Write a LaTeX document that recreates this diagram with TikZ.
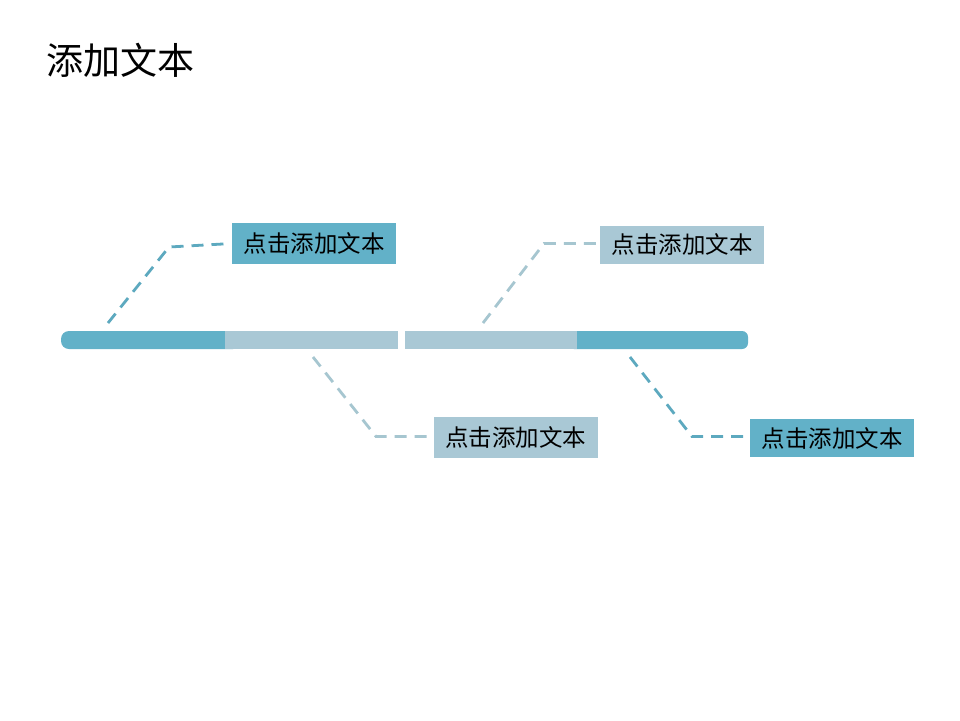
\documentclass[tikz,border=0pt]{standalone}
\usepackage{fontspec}
\setmainfont{Noto Sans CJK SC}
\definecolor{tealdark}{HTML}{62B1C8}
\definecolor{teallight}{HTML}{A9C8D5}
\definecolor{linedark}{HTML}{5DA9BF}
\definecolor{linelight}{HTML}{A6C6D0}
\begin{document}
\begin{tikzpicture}[x=1pt,y=-1pt,
  label box/.style={inner sep=0pt, minimum width=164pt, text=black,
    font=\fontsize{23.5}{28}\selectfont},
  bar/.style={inner sep=0pt, minimum height=18pt, draw=none},
  leader/.style={line width=2.8pt, dash pattern=on 12pt off 8pt},
]
\useasboundingbox (0,0) rectangle (960,720);
\fill[white] (0,0) rectangle (960,720);

% title
\node[anchor=west, inner sep=0pt, font=\fontsize{37}{44}\selectfont] (title) at (46,60) {添加文本};

% bar segments
\node[bar, fill=tealdark, rounded corners=8pt, minimum width=180pt] (bar1) at (151,340) {};
\node[bar, fill=teallight, minimum width=173pt] (bar2) at (311.5,340) {};
\node[bar, fill=tealdark, rounded corners=6pt, minimum width=180pt] (bar4) at (658,340) {};
\node[bar, fill=teallight, minimum width=172pt] (bar3) at (491,340) {};

% label boxes
\node[label box, fill=tealdark, minimum height=41pt] (b1) at (314,243.5) {点击添加文本};
\node[label box, fill=teallight, minimum height=38pt] (b2) at (682,244.5) {点击添加文本};
\node[label box, fill=teallight, minimum height=41pt] (b3) at (515.5,437.5) {点击添加文本};
\node[label box, fill=tealdark, minimum height=38pt] (b4) at (832,438) {点击添加文本};

% leader coordinates
\coordinate (s1) at (108,323);
\coordinate (k1) at (169,247);
\coordinate (s2) at (483,323);
\coordinate (k2) at (544,243.5);
\coordinate (s3) at (313,357);
\coordinate (k3) at (376,436.5);
\coordinate (s4) at (630,357);
\coordinate (k4) at (692,436.5);

\draw[leader, linedark, shorten >=4pt] (s1) -- (k1) -- (b1.west);
\draw[leader, linelight] (s2) -- (k2) -- (k2 -| b2.west);
\draw[leader, linelight, shorten >=2pt] (s3) -- (k3) -- (k3 -| b3.west);
\draw[leader, linedark, shorten >=2pt] (s4) -- (k4) -- (k4 -| b4.west);
\end{tikzpicture}
\end{document}
